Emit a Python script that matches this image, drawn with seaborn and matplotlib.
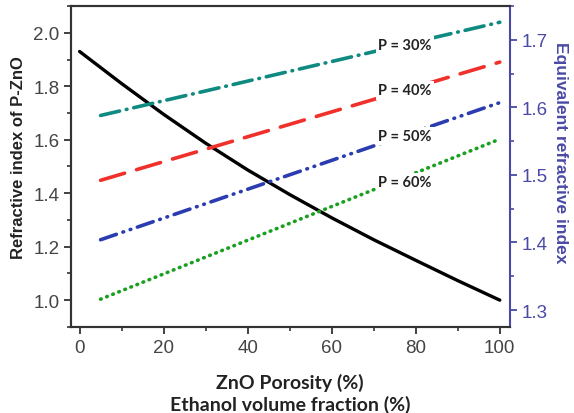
import matplotlib
matplotlib.use("Agg")
import matplotlib.pyplot as plt
import seaborn as sns
import pandas as pd
from matplotlib.ticker import MultipleLocator

sns.set_theme(style="white")
plt.rcParams['font.family'] = ['Liberation Sans', 'DejaVu Sans']
plt.rcParams['lines.scale_dashes'] = False

# Data
porosity = [0, 10, 20, 30, 40, 50, 60, 70, 80, 90, 100]
n_pzno = [1.93, 1.81, 1.695, 1.587, 1.487, 1.395, 1.308, 1.226, 1.149, 1.073, 1.0]

ethanol = [5, 100]
p30 = [1.588, 1.726]
p40 = [1.492, 1.667]
p50 = [1.404, 1.607]
p60 = [1.316, 1.553]
series_labels = ["P = 30%", "P = 40%", "P = 50%", "P = 60%"]

blue_axis = "#4a4aa6"

fig = plt.figure(figsize=(5.74, 4.14), dpi=100)
ax = fig.add_axes([0.124, 0.208, 0.765, 0.775])
ax2 = ax.twinx()

df_black = pd.DataFrame({"x": porosity, "y": n_pzno})
sns.lineplot(data=df_black, x="x", y="y", ax=ax, color="black", linewidth=2.4)

styles = [
    ("#0e8a80", (0, (14, 5, 0.5, 5))),
    ("#f0302a", (0, (18, 9))),
    ("#2a3cb0", (0, (12, 5, 0.5, 5, 0.5, 5))),
    ("#1aa020", (0, (0.5, 4.2))),
]
for vals, (c, ls) in zip([p30, p40, p50, p60], styles):
    d = pd.DataFrame({"x": ethanol, "y": vals})
    sns.lineplot(data=d, x="x", y="y", ax=ax2, color=c, linewidth=2.6,
                 linestyle=ls)
for line in ax2.get_lines():
    line.set_dash_capstyle("round")

label_y = [1.692, 1.625, 1.557, 1.489]
for lab, yy in zip(series_labels, label_y):
    ax2.text(77.5, yy, lab, ha="center", va="center", fontsize=10.5,
             fontweight="bold", family=["Lato", "DejaVu Sans"], color="#222222",
             bbox=dict(facecolor="white", edgecolor="none", pad=1.5), zorder=5)

ax.set_xlim(-2, 102.5)
ax.set_ylim(0.9, 2.1)
ax2.set_ylim(1.275, 1.75)

ax.xaxis.set_major_locator(MultipleLocator(20))
ax.xaxis.set_minor_locator(MultipleLocator(10))
ax.yaxis.set_major_locator(MultipleLocator(0.2))
ax.yaxis.set_minor_locator(MultipleLocator(0.1))
ax2.yaxis.set_major_locator(MultipleLocator(0.1))
ax2.yaxis.set_minor_locator(MultipleLocator(0.05))

ax.tick_params(axis="both", which="major", direction="out", length=5, width=1.3,
               labelsize=13.5, colors="#333333", bottom=True, left=True)
ax.tick_params(axis="both", which="minor", direction="out", length=3, width=1.2,
               bottom=True, left=True, colors="#333333")
ax.tick_params(axis="x", labelcolor="#444444")
ax.tick_params(axis="y", labelcolor="#444444")
ax2.tick_params(axis="y", which="major", direction="out", length=5, width=1.3,
                labelsize=13.5, colors=blue_axis, right=True)
ax2.tick_params(axis="y", which="minor", direction="out", length=3, width=1.2,
                colors=blue_axis, right=True)
ax.yaxis.set_major_formatter(matplotlib.ticker.FormatStrFormatter("%.1f"))
ax2.yaxis.set_major_formatter(matplotlib.ticker.FormatStrFormatter("%.1f"))

for s in ["left", "bottom", "top"]:
    ax.spines[s].set_color("#333333")
    ax.spines[s].set_linewidth(1.5)
    ax2.spines[s].set_color("#333333")
    ax2.spines[s].set_linewidth(1.5)
ax2.spines["right"].set_color(blue_axis)
ax2.spines["right"].set_linewidth(1.5)
ax.spines["right"].set_visible(False)

ax.set_xlabel("")
ax.set_ylabel("")
ax2.set_ylabel("")

fig.text(0.032, 0.62, "Refractive index of P-ZnO", rotation=90, ha="center",
         va="center", fontsize=12, fontweight="bold", color="#222222")
fig.text(0.976, 0.632, "Equivalent refractive index", rotation=270, ha="center",
         va="center", fontsize=12.5, fontweight="bold", color=blue_axis)
fig.text(0.505, 0.075, "ZnO Porosity (%)", ha="center", va="center",
         fontsize=14, fontweight="bold", family=["Lato", "DejaVu Sans"],
         color="#222222")
fig.text(0.505, 0.022, "Ethanol volume fraction (%)", ha="center", va="center",
         fontsize=14, fontweight="bold", family=["Lato", "DejaVu Sans"],
         color="#222222")

fig.savefig("out.png", dpi=100)
